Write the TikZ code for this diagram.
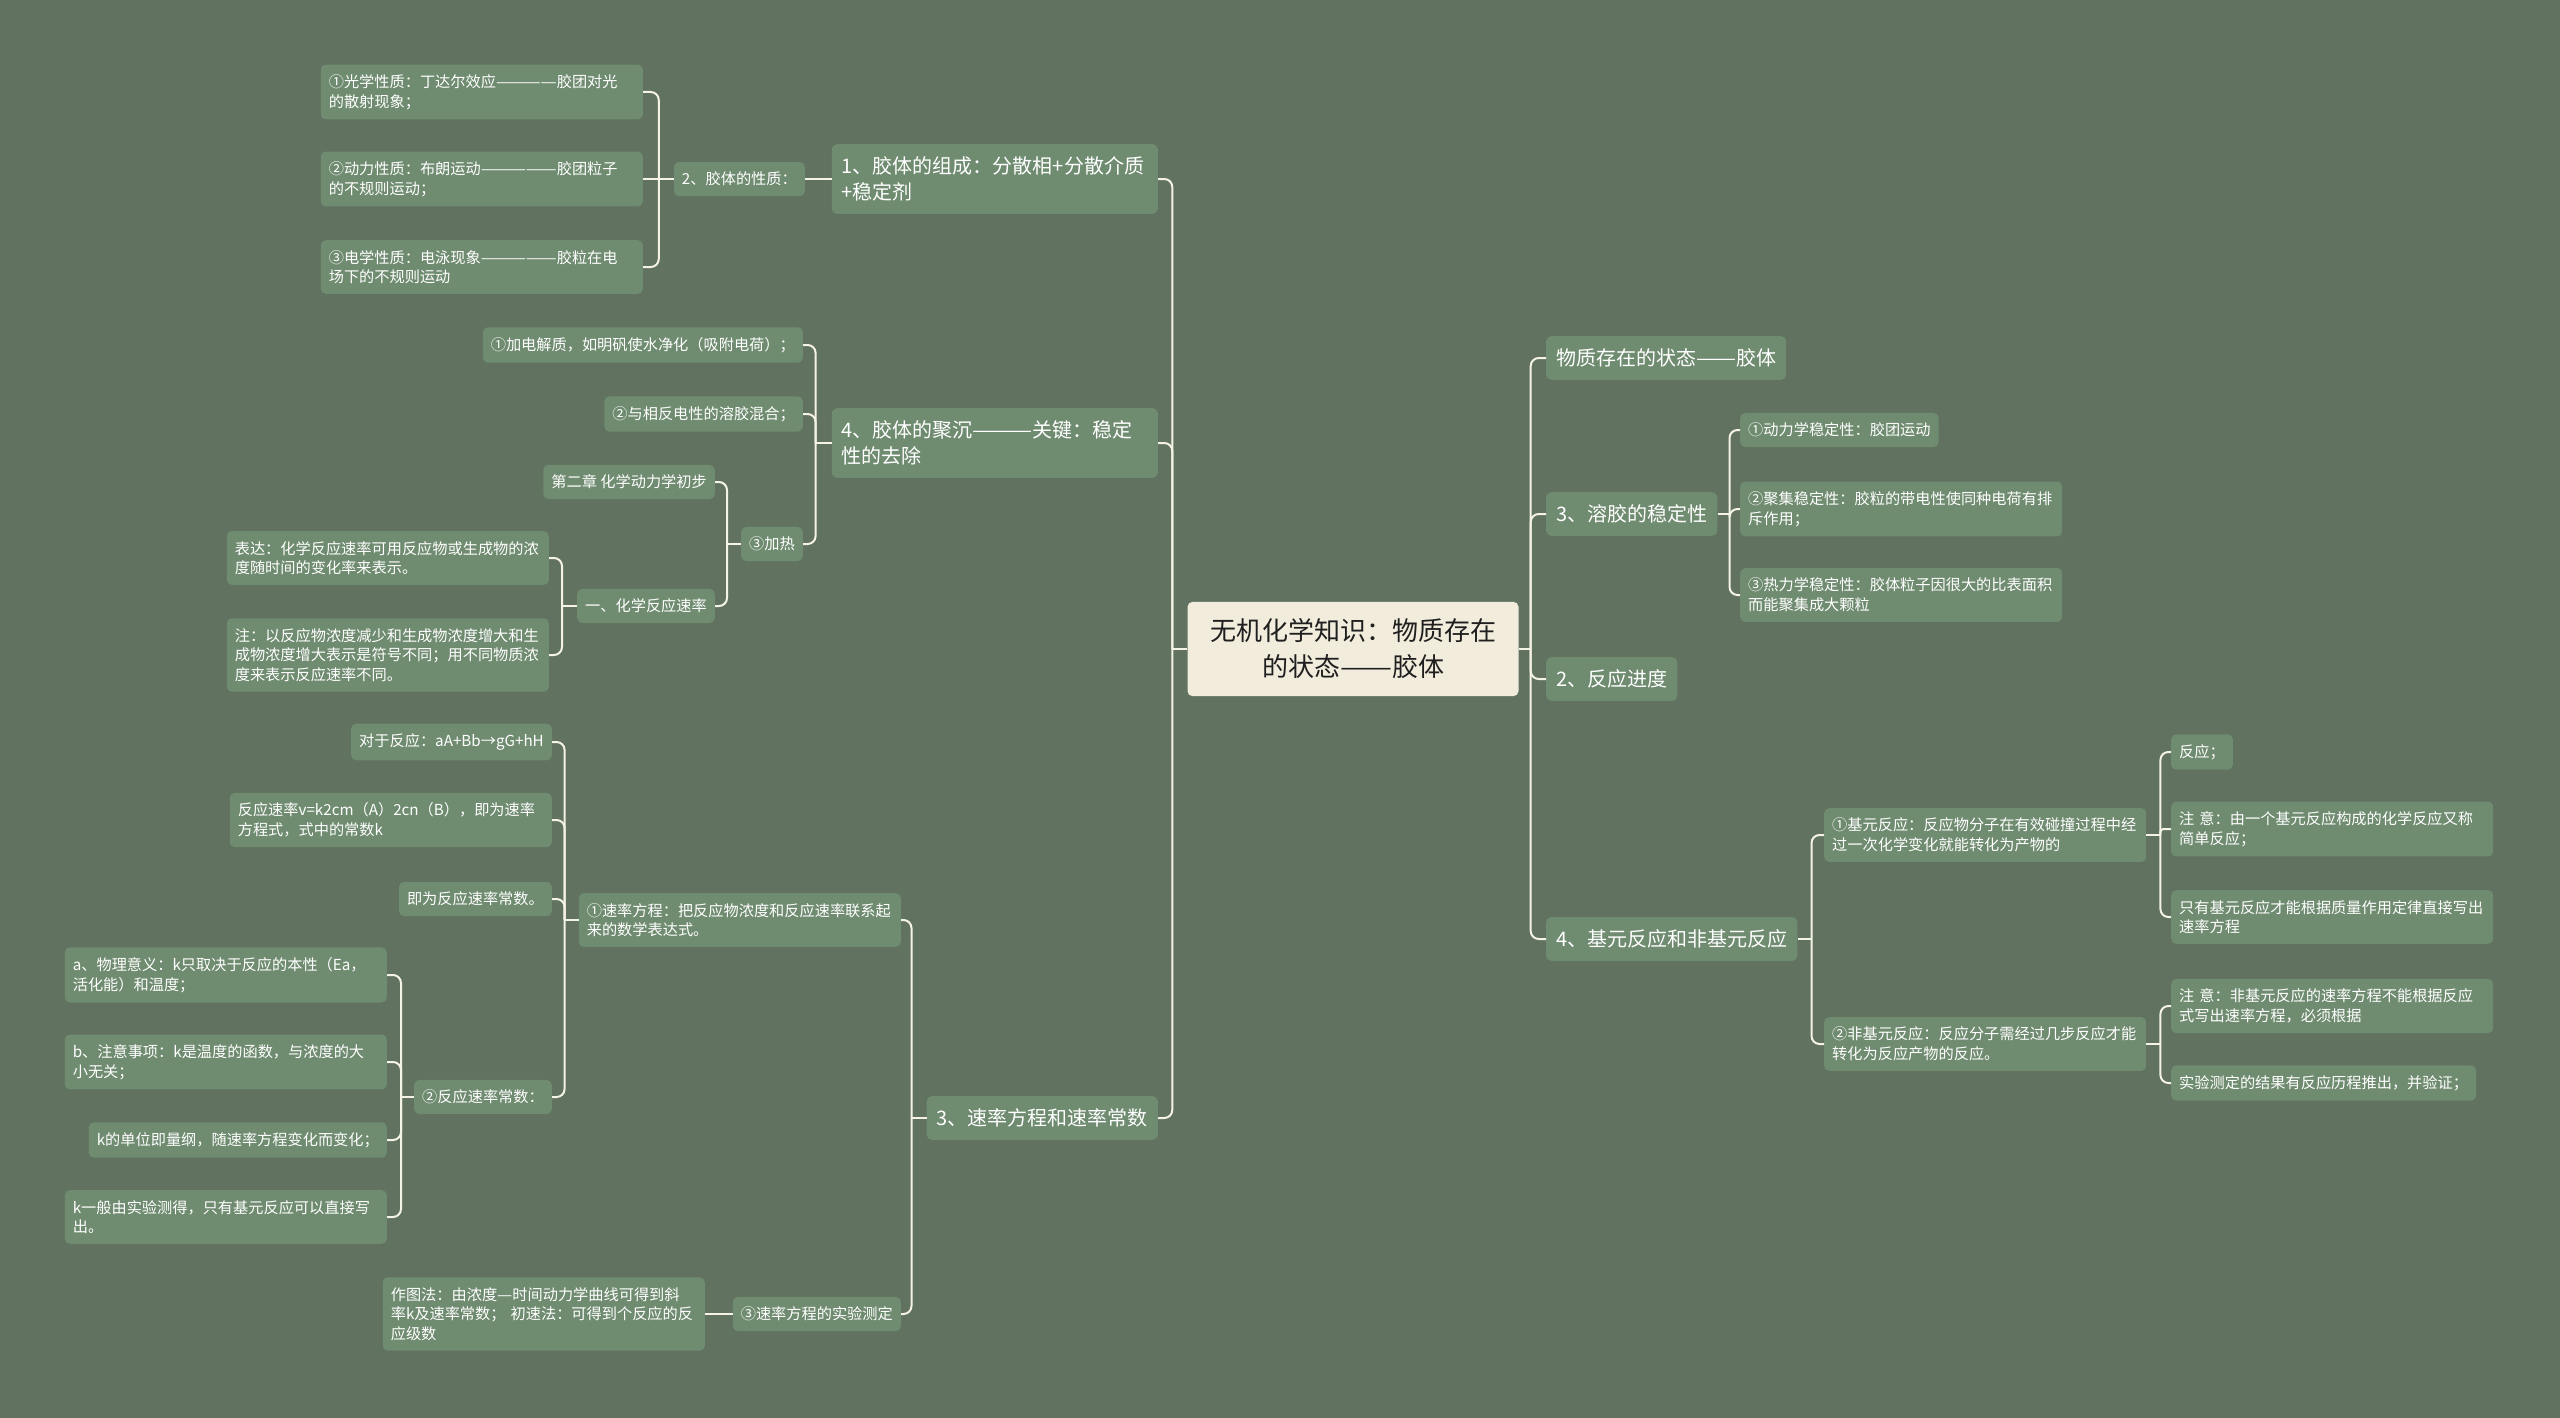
\documentclass[tikz,border=0pt]{standalone}
\usepackage{fontspec}
\usepackage{graphicx}
\setmainfont{Noto Sans CJK SC}
\definecolor{bg}{HTML}{617261}
\definecolor{nodec}{HTML}{6F8B70}
\definecolor{rootc}{HTML}{F1ECDC}
\definecolor{linec}{HTML}{F5F2E6}
\tikzset{
 base/.style={fill=nodec, rounded corners=5pt, text=white, align=left},
 sm/.style={base, font=\fontsize{15.2}{19.6}\selectfont, inner xsep=8pt, inner ysep=10pt},
 smw/.style={sm, text width=306pt},
 big/.style={base, font=\fontsize{20}{26}\selectfont, inner xsep=10pt, inner ysep=12.5pt},
 bigw/.style={big, text width=306pt},
 rootbox/.style={fill=rootc, rounded corners=5pt, text=black!88, align=center, font=\fontsize{26}{36}\selectfont, minimum width=331pt, inner ysep=17pt},
 conn/.style={draw=linec, line width=2pt},
}
\newcommand\dsh[2]{\resizebox{#1em}{\height}{#2}}
\newcommand\leftbranch[4][8]{\draw[conn] (#2.west) -- ++(-#4,0);
  \draw[conn,rounded corners=#1pt] ([xshift=-#4pt]#2.west) |- (#3.east);}
\newcommand\rightbranch[4][8]{\draw[conn] (#2.east) -- ++(#4,0);
  \draw[conn,rounded corners=#1pt] ([xshift=#4pt]#2.east) |- (#3.west);}
\begin{document}
\begin{tikzpicture}[x=1pt,y=-1pt]
\fill[bg] (0,0) rectangle (2560,1418);
\useasboundingbox (0,0) rectangle (2560,1418);

% root
\node[rootbox] (root) at (1353,649) {无机化学知识：物质存在\\的状态\dsh{2}{——}胶体};

% ---------- left side ----------
\node[bigw, anchor=east] (L1a) at (1158,179) {1、胶体的组成：分散相+分散介质\\+稳定剂};
\node[sm, anchor=east] (p2) at (805,179) {2、胶体的性质：};
\node[smw, anchor=east] (p2a) at (643,92) {①光学性质：丁达尔效应\dsh{4}{————}胶团对光\\的散射现象；};
\node[smw, anchor=east] (p2b) at (643,179) {②动力性质：布朗运动\dsh{5}{—————}胶团粒子\\的不规则运动；};
\node[smw, anchor=east] (p2c) at (643,267) {③电学性质：电泳现象\dsh{5}{—————}胶粒在电\\场下的不规则运动};

\node[bigw, anchor=east] (L1b) at (1158,443) {4、胶体的聚沉\dsh{3}{———}关键：稳定\\性的去除};
\node[sm, anchor=east] (q1) at (803,345) {①加电解质，如明矾使水净化（吸附电荷）；};
\node[sm, anchor=east] (q2) at (803,414) {②与相反电性的溶胶混合；};
\node[sm, anchor=east] (q3) at (803,544) {③加热};
\node[sm, anchor=east] (q31) at (715,482) {第二章 化学动力学初步};
\node[sm, anchor=east] (q32) at (715,606) {一、化学反应速率};
\node[smw, anchor=east] (q321) at (549,558) {表达：化学反应速率可用反应物或生成物的浓\\度随时间的变化率来表示。};
\node[smw, anchor=east] (q322) at (549,655) {注：以反应物浓度减少和生成物浓度增大和生\\成物浓度增大表示是符号不同；用不同物质浓\\度来表示反应速率不同。};

\node[big, anchor=east] (L1c) at (1158,1118) {3、速率方程和速率常数};
\node[smw, anchor=east] (r1) at (901,920) {①速率方程：把反应物浓度和反应速率联系起\\来的数学表达式。};
\node[sm, anchor=east] (r11) at (552,742) {对于反应：aA+Bb→gG+hH};
\node[smw, anchor=east] (r12) at (552,820) {反应速率v=k2cm（A）2cn（B），即为速率\\方程式，式中的常数k};
\node[sm, anchor=east] (r13) at (552,899) {即为反应速率常数。};
\node[sm, anchor=east] (r14) at (552,1097) {②反应速率常数：};
\node[smw, anchor=east] (r141) at (387,975) {a、物理意义：k只取决于反应的本性（Ea，\\活化能）和温度；};
\node[smw, anchor=east] (r142) at (387,1062) {b、注意事项：k是温度的函数，与浓度的大\\小无关；};
\node[sm, anchor=east] (r143) at (387,1140) {k的单位即量纲，随速率方程变化而变化；};
\node[smw, anchor=east] (r144) at (387,1217) {k一般由实验测得，只有基元反应可以直接写\\出。};
\node[sm, anchor=east] (r2) at (901,1314) {③速率方程的实验测定};
\node[smw, anchor=east] (r21) at (705,1314) {作图法：由浓度\dsh{1}{—}时间动力学曲线可得到斜\\率k及速率常数； 初速法：可得到个反应的反\\应级数};

% ---------- right side ----------
\node[big, anchor=west] (R1a) at (1546,358) {物质存在的状态\dsh{2}{——}胶体};
\node[big, anchor=west] (R1b) at (1546,514) {3、溶胶的稳定性};
\node[big, anchor=west] (R1c) at (1546,679) {2、反应进度};
\node[big, anchor=west] (R1d) at (1546,939) {4、基元反应和非基元反应};
\node[sm, anchor=west] (s1) at (1740,430) {①动力学稳定性：胶团运动};
\node[smw, anchor=west] (s2) at (1740,509) {②聚集稳定性：胶粒的带电性使同种电荷有排\\斥作用；};
\node[smw, anchor=west] (s3) at (1740,595) {③热力学稳定性：胶体粒子因很大的比表面积\\而能聚集成大颗粒};
\node[smw, anchor=west] (t1) at (1824,835) {①基元反应：反应物分子在有效碰撞过程中经\\过一次化学变化就能转化为产物的};
\node[smw, anchor=west] (t2) at (1824,1044) {②非基元反应：反应分子需经过几步反应才能\\转化为反应产物的反应。};
\node[sm, anchor=west] (t11) at (2171,752) {反应；};
\node[smw, anchor=west] (t12) at (2171,829) {注 意：由一个基元反应构成的化学反应又称\\简单反应；};
\node[smw, anchor=west] (t13) at (2171,917) {只有基元反应才能根据质量作用定律直接写出\\速率方程};
\node[smw, anchor=west] (t21) at (2171,1006) {注 意：非基元反应的速率方程不能根据反应\\式写出速率方程，必须根据};
\node[sm, anchor=west] (t22) at (2171,1083) {实验测定的结果有反应历程推出，并验证；};

% ---------- connectors ----------
\leftbranch{root}{L1a}{15}
\leftbranch{root}{L1b}{15}
\leftbranch{root}{L1c}{15}
\draw[conn] (L1a.west) -- (p2.east);
\leftbranch{p2}{p2a}{15}
\draw[conn] (p2.west) -- (p2b.east);
\leftbranch{p2}{p2c}{15}
\leftbranch{L1b}{q1}{16}
\leftbranch{L1b}{q2}{16}
\leftbranch{L1b}{q3}{16}
\leftbranch{q3}{q31}{14}
\leftbranch{q3}{q32}{14}
\leftbranch{q32}{q321}{15}
\leftbranch{q32}{q322}{15}
\leftbranch{L1c}{r1}{15}
\leftbranch{L1c}{r2}{15}
\leftbranch{r1}{r11}{14}
\leftbranch{r1}{r12}{14}
\leftbranch{r1}{r13}{14}
\leftbranch{r1}{r14}{14}
\leftbranch{r14}{r141}{13}
\leftbranch{r14}{r142}{13}
\leftbranch{r14}{r143}{13}
\leftbranch{r14}{r144}{13}
\draw[conn] (r2.west) -- (r21.east);

\rightbranch{root}{R1a}{12}
\rightbranch{root}{R1b}{12}
\rightbranch{root}{R1c}{12}
\rightbranch{root}{R1d}{12}
\rightbranch{R1b}{s1}{12}
\rightbranch{R1b}{s2}{12}
\rightbranch{R1b}{s3}{12}
\rightbranch{R1d}{t1}{14}
\rightbranch{R1d}{t2}{14}
\rightbranch{t1}{t11}{14}
\rightbranch[3]{t1}{t12}{14}
\rightbranch{t1}{t13}{14}
\rightbranch{t2}{t21}{14}
\rightbranch{t2}{t22}{14}
\end{tikzpicture}
\end{document}
